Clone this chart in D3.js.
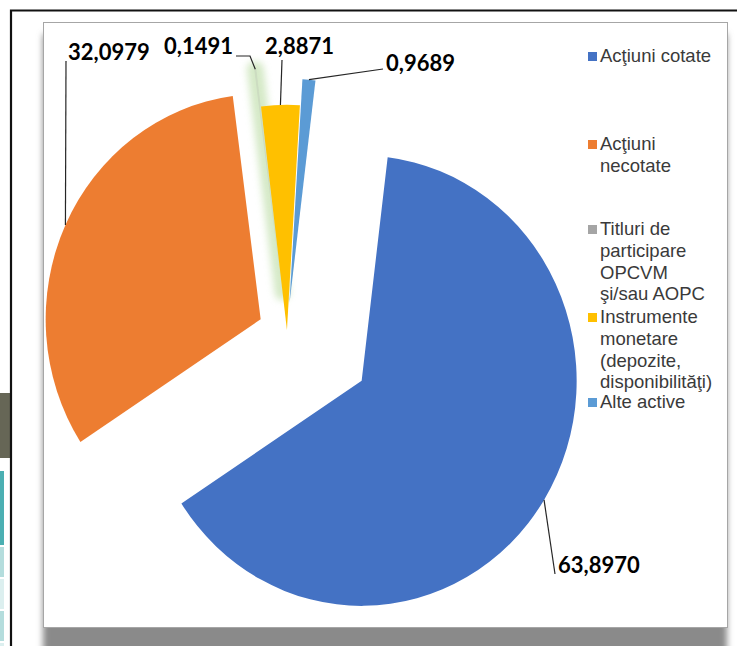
<!DOCTYPE html>
<html>
<head>
<meta charset="utf-8">
<script src="https://cdn.jsdelivr.net/npm/d3@7"></script>
<style>
  body { margin: 0; background: #fff; }
  .value-label { font-family: Lato, 'Liberation Sans', sans-serif; font-weight: bold; font-size: 22px; fill: #000; }
  .legend-text { font-family: 'Liberation Sans', Arial, sans-serif; font-size: 18.5px; fill: #3a3a3a; }
  .leader { fill: none; stroke: #262626; stroke-width: 1.2; }
</style>
</head>
<body>
<svg class="chart" width="737" height="646"></svg>
<script>
const categories = [
  'Acţiuni cotate',
  'Acţiuni\nnecotate',
  'Titluri de\nparticipare\nOPCVM\nşi/sau AOPC',
  'Instrumente\nmonetare\n(depozite,\ndisponibilităţi)',
  'Alte active',
];
const values = [63.8970, 32.0979, 0.1491, 2.8871, 0.9689];
const colors = ['#4472C4', '#ED7D31', '#A5A5A5', '#FFC000', '#5B9BD5'];

// layout of the exploded pie (Excel-like, slightly stretched vertically)
const explode = [88, 29, 38, 2, 27];
const glowIndex = 2;
const labelSpots = [
  { x: 558, y: 573, anchor: 'start', bend: [[555, 574]] },
  { x: 68, y: 60, anchor: 'start', bend: [[66, 61]] },
  { x: 233, y: 54, anchor: 'end', bend: [[250, 56], [236, 56]] },
  { x: 265, y: 54, anchor: 'start', bend: [[282, 60]] },
  { x: 386, y: 71, anchor: 'start', bend: [[383, 69]] },
];
const legendTops = [62, 150, 235, 323, 408];

const roFormat = d3.formatLocale({
  decimal: ',', thousands: '.', grouping: [3], currency: ['', ''],
}).format('.4f');

const drawFrame = (svg) => {
  const defs = svg.append('defs');
  defs.append('filter')
    .attr('id', 'boxShadow')
    .attr('x', '-5%').attr('y', '-5%')
    .attr('width', '110%').attr('height', '110%')
    .append('feGaussianBlur')
    .attr('stdDeviation', 3);

  defs.append('filter')
    .attr('id', 'soften')
    .attr('x', '-200%').attr('y', '-20%')
    .attr('width', '500%').attr('height', '140%')
    .append('feGaussianBlur')
    .attr('stdDeviation', 3.5);

  // bits of the page behind the chart
  svg.append('rect').attr('x', 0).attr('y', 393).attr('width', 10).attr('height', 65).attr('fill', '#666656');
  svg.append('rect').attr('x', 0).attr('y', 471).attr('width', 4).attr('height', 74).attr('fill', '#4bafb2');
  svg.append('rect').attr('x', 0).attr('y', 547).attr('width', 4).attr('height', 30).attr('fill', '#b4dddd');
  svg.append('rect').attr('x', 0).attr('y', 579).attr('width', 4).attr('height', 30).attr('fill', '#dcefef');
  svg.append('rect').attr('x', 0).attr('y', 611).attr('width', 4).attr('height', 30).attr('fill', '#b4dddd');
  svg.append('rect').attr('x', 0).attr('y', 643).attr('width', 4).attr('height', 3).attr('fill', '#dcefef');

  svg.append('path')
    .attr('d', 'M11,646V10.5H737')
    .attr('fill', 'none')
    .attr('stroke', '#111')
    .attr('stroke-width', 2.2);

  svg.append('rect')
    .attr('x', 43).attr('y', 34)
    .attr('width', 684).attr('height', 630)
    .attr('fill', '#8a8a8a')
    .attr('filter', 'url(#boxShadow)');

  svg.append('rect')
    .attr('x', 43.5).attr('y', 22.5)
    .attr('width', 684).attr('height', 605)
    .attr('fill', '#fff')
    .attr('stroke', '#a6a6a6');
};

const startApp = () => {
  const svg = d3.select('.chart');
  const center = { x: 287, y: 332 };
  const radius = 215;
  const stretch = 1.047;
  const firstAngle = 6.95 * Math.PI / 180;

  drawFrame(svg);

  const pie = d3.pie()
    .sort(null)
    .startAngle(firstAngle)
    .endAngle(firstAngle + 2 * Math.PI);
  const arc = d3.arc().innerRadius(0).outerRadius(radius);
  const slices = pie(values).map((d, i) => ({ ...d, i, mid: (d.startAngle + d.endAngle) / 2 }));
  const shift = ({ i, mid }) => `translate(${explode[i] * Math.sin(mid)}, ${-explode[i] * Math.cos(mid)})`;

  const pieGroup = svg.append('g')
    .attr('transform', `translate(${center.x}, ${center.y}) scale(1, ${stretch})`);

  // green glow behind the thin grey slice
  pieGroup.selectAll('.glow')
    .data(slices.filter(({ i }) => i === glowIndex))
    .enter()
    .append('path')
    .classed('glow', true)
    .attr('d', arc)
    .attr('fill', '#b3d89a')
    .attr('stroke', '#b3d89a')
    .attr('stroke-width', 15)
    .attr('stroke-linejoin', 'round')
    .attr('opacity', 0.55)
    .attr('filter', 'url(#soften)')
    .attr('transform', shift);

  pieGroup.selectAll('.slice')
    .data(slices)
    .enter()
    .append('path')
    .classed('slice', true)
    .attr('d', arc)
    .attr('fill', ({ i }) => colors[i])
    .attr('fill-opacity', ({ i }) => (i === glowIndex ? 0.2 : 1))
    .attr('transform', shift);

  // leader lines start on the outer arc, in the middle of each slice
  const arcTip = ({ i, mid }) => {
    const reach = explode[i] + radius;
    return [center.x + reach * Math.sin(mid), center.y - reach * Math.cos(mid) * stretch];
  };

  svg.selectAll('.leader')
    .data(slices)
    .enter()
    .append('path')
    .classed('leader', true)
    .attr('d', d => d3.line()([arcTip(d), ...labelSpots[d.i].bend]));

  svg.selectAll('.value-label')
    .data(slices)
    .enter()
    .append('text')
    .classed('value-label', true)
    .attr('x', ({ i }) => labelSpots[i].x)
    .attr('y', ({ i }) => labelSpots[i].y)
    .attr('text-anchor', ({ i }) => labelSpots[i].anchor)
    .text(({ value }) => roFormat(value));

  const legend = svg.selectAll('.legend-item')
    .data(categories)
    .enter()
    .append('g')
    .classed('legend-item', true)
    .attr('transform', (d, i) => `translate(588, ${legendTops[i]})`);

  legend.append('rect')
    .attr('x', 0)
    .attr('y', -10)
    .attr('width', 9)
    .attr('height', 9)
    .attr('fill', (d, i) => colors[i]);

  legend.append('text')
    .classed('legend-text', true)
    .selectAll('tspan')
    .data(d => d.split('\n'))
    .enter()
    .append('tspan')
    .attr('x', 12)
    .attr('y', (d, k) => k * 21.8)
    .text(d => d);
};

window.onload = startApp;
</script>
</body>
</html>
